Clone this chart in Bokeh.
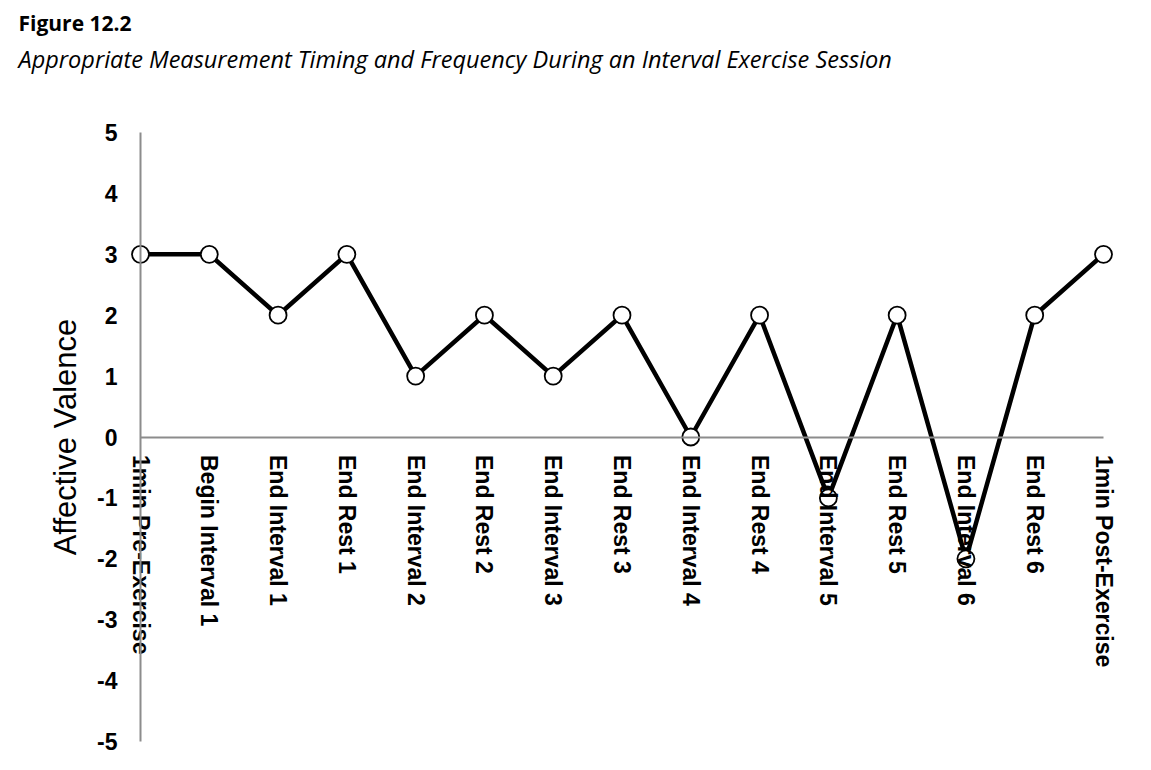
import math
from bokeh.plotting import figure
from bokeh.models import Range1d, LinearAxis, FixedTicker, Label, ColumnDataSource
from bokeh.core.properties import value
from bokeh.embed import file_html
from bokeh.resources import INLINE

# ---- data ----
categories = ["1min Pre-Exercise", "Begin Interval 1", "End Interval 1", "End Rest 1",
              "End Interval 2", "End Rest 2", "End Interval 3", "End Rest 3",
              "End Interval 4", "End Rest 4", "End Interval 5", "End Rest 5",
              "End Interval 6", "End Rest 6", "1min Post-Exercise"]
valence = [3, 3, 2, 3, 1, 2, 1, 2, 0, 2, -1, 2, -2, 2, 3]
y_ticks = [-5, -4, -3, -2, -1, 0, 1, 2, 3, 4, 5]
title_text = "Figure 12.2"
subtitle_text = "Appropriate Measurement Timing and Frequency During an Interval Exercise Session"
y_label = "Affective Valence"

W, H = 1135, 754
xs = list(range(len(categories)))

# canvas mapping: x=0 at canvas 140, x=14 at canvas 1103; y=5 at canvas 132, y=-5 at canvas 741
n = len(categories) - 1
ppx = (1103 - 140) / n
x0 = -140 / ppx
x1 = n + (W - 1103) / ppx
ppy = (741 - 132) / 10
y1 = 5 + 132 / ppy
y0 = -5 - (H - 741) / ppy

p = figure(width=W, height=H, output_backend="svg", toolbar_location=None,
           x_range=Range1d(x0, x1), y_range=Range1d(y0, y1),
           x_axis_location=None, y_axis_location=None, min_border=0)
p.outline_line_color = None
p.xgrid.visible = False
p.ygrid.visible = False
p.background_fill_color = "white"
p.border_fill_color = "white"

yax = LinearAxis(fixed_location=0, bounds=(-5, 5), ticker=FixedTicker(ticks=y_ticks))
yax.major_label_overrides = {t: str(t) for t in y_ticks}
yax.axis_line_color = "#8c8c8c"
yax.axis_line_width = 2
yax.major_tick_line_color = None
yax.minor_tick_line_color = None
yax.major_label_text_font = "Liberation Sans"
yax.major_label_text_font_style = "bold"
yax.major_label_text_font_size = "23px"
yax.major_label_text_color = "black"
yax.major_label_standoff = 17
yax.axis_label = y_label
yax.axis_label_text_font = "Liberation Sans"
yax.axis_label_text_font_style = "normal"
yax.axis_label_text_font_size = "31px"
yax.axis_label_text_color = "black"
yax.axis_label_standoff = 11
p.add_layout(yax, "left")

xax = LinearAxis(fixed_location=0, bounds=(0, n), ticker=FixedTicker(ticks=[]))
xax.axis_line_color = "#8c8c8c"
xax.axis_line_width = 2
xax.major_tick_line_color = None
xax.minor_tick_line_color = None
xax.major_label_text_font_size = "0px"
p.add_layout(xax, "below")

src = ColumnDataSource(dict(x=xs, y=valence, label=categories))
p.line("x", "y", source=src, line_color="black", line_width=4.5)
p.scatter("x", "y", source=src, size=17, fill_color="white", line_color="black", line_width=1.8)

p.text("x", 0, text="label", source=src, angle=-math.pi / 2, x_offset=0, y_offset=18,
       text_align="left", text_baseline="middle",
       text_font=value("Liberation Sans"), text_font_style="bold",
       text_font_size="23px", text_color="black")

p.add_layout(Label(x=18, y=H - 36, x_units="screen", y_units="screen", text=title_text,
                   text_font="Open Sans", text_font_style="bold", text_font_size="21px",
                   text_color="black"))
p.add_layout(Label(x=18, y=H - 74, x_units="screen", y_units="screen", text=subtitle_text,
                   text_font="Open Sans", text_font_style="italic", text_font_size="23.5px",
                   text_color="black"))

open("out.html", "w").write(file_html(p, INLINE))
